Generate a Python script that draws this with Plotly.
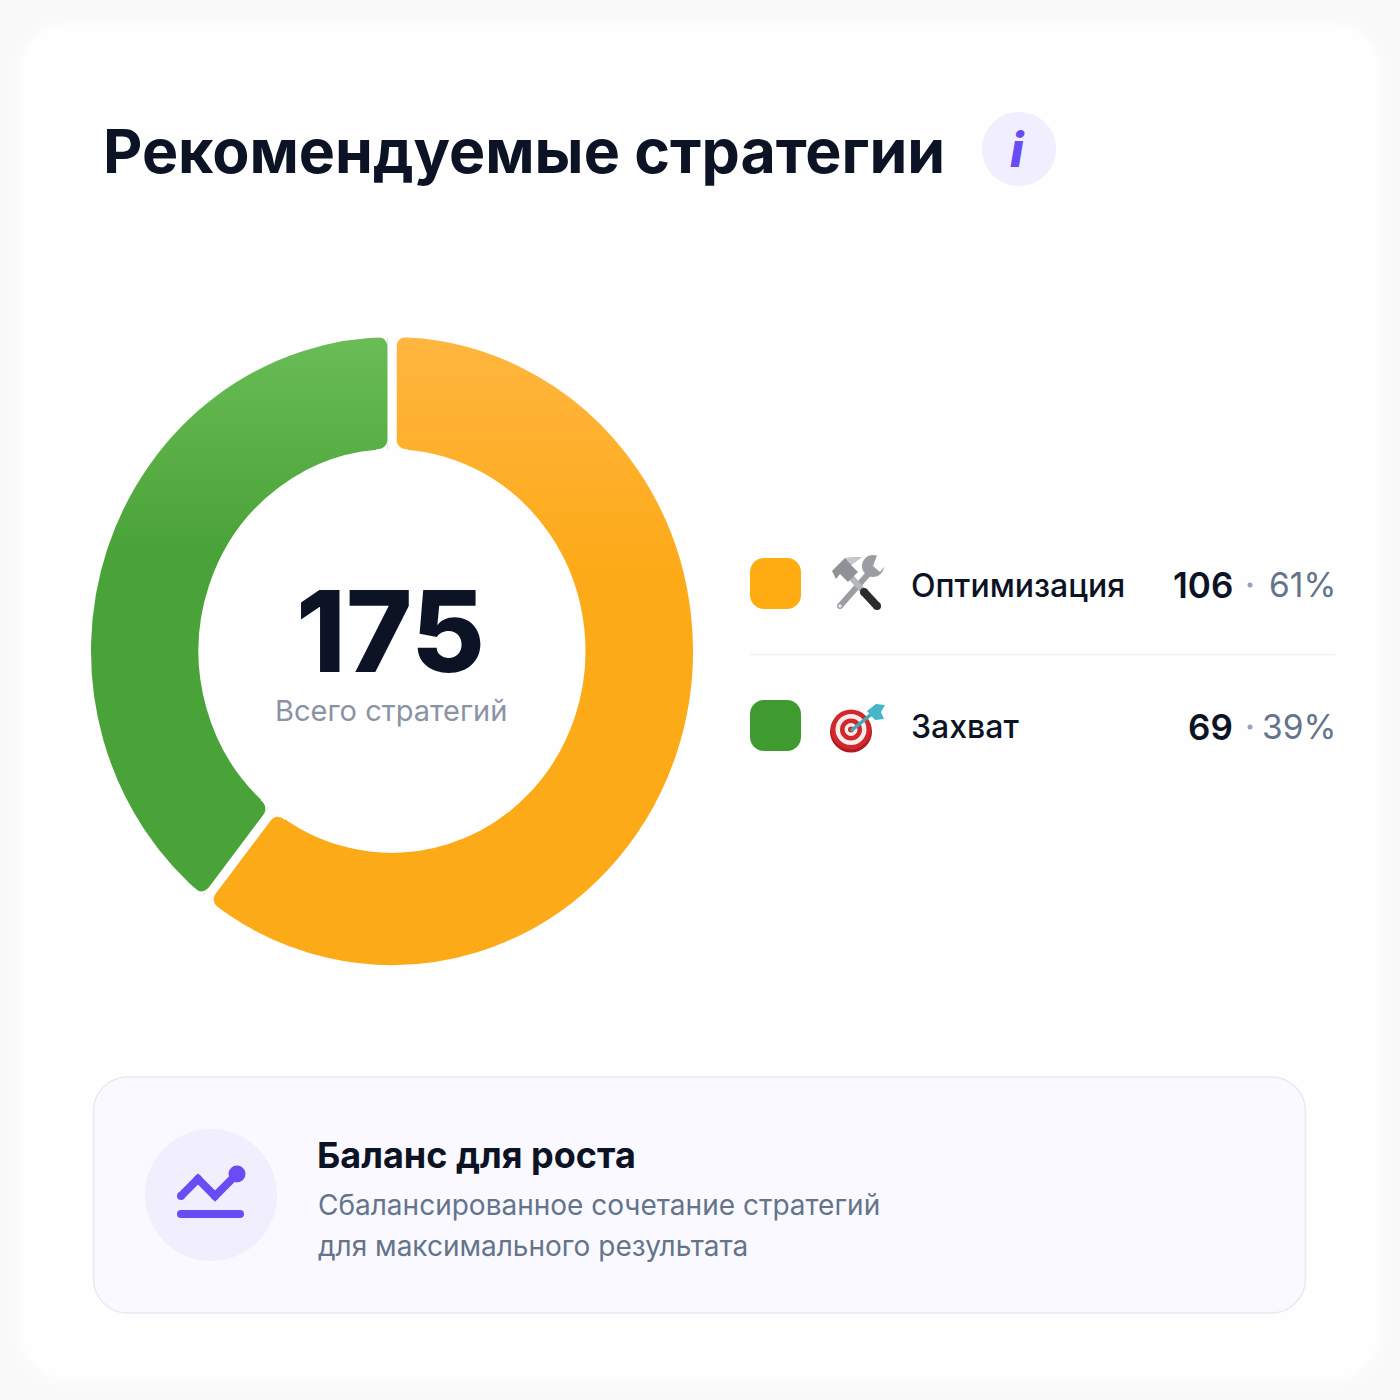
import math
import plotly.graph_objects as go

# ---- data ----
TITLE = "Рекомендуемые стратегии"
CATEGORIES = ["Оптимизация", "Захват"]
VALUES = [106, 69]
PERCENTS = ["61%", "39%"]
TOTAL_LABEL = "Всего стратегий"
TOTAL = sum(VALUES)
COLORS = ["#FDAB1E", "#4AA338"]
SWATCHES = ["#FFAB12", "#3F9A2F"]
NOTE_TITLE = "Баланс для роста"
NOTE_LINES = ["Сбалансированное сочетание стратегий", "для максимального результата"]

W = H = 1400
CARD = "#FEFEFE"
INK = "#0B1324"
PURPLE = "#6A4CF5"
LAV = "#F1EEFD"
FONT = "Inter"

def X(p): return p / W
def Y(p): return 1 - p / H

shapes = []
annotations = []

def path_str(cmds):
    out = []
    for c in cmds:
        if len(c) == 1:
            out.append(c[0])
        else:
            vals = []
            for i, v in enumerate(c[1:]):
                vals.append(f"{X(v) if i % 2 == 0 else Y(v):.6f}")
            out.append(c[0] + " " + " ".join(vals))
    return " ".join(out)

def rrect(x0, y0, x1, y1, r, fill, line=None, lw=0, layer="below"):
    k = 0.45 * r
    cmds = [("M", x0 + r, y0), ("L", x1 - r, y0),
            ("C", x1 - k, y0, x1, y0 + k, x1, y0 + r), ("L", x1, y1 - r),
            ("C", x1, y1 - k, x1 - k, y1, x1 - r, y1), ("L", x0 + r, y1),
            ("C", x0 + k, y1, x0, y1 - k, x0, y1 - r), ("L", x0, y0 + r),
            ("C", x0, y0 + k, x0 + k, y0, x0 + r, y0), ("Z",)]
    shapes.append(dict(type="path", xref="paper", yref="paper", path=path_str(cmds),
                       fillcolor=fill, line=dict(color=line or fill, width=lw), layer=layer))

def circle(cx, cy, r, fill, layer="above"):
    shapes.append(dict(type="circle", xref="paper", yref="paper", x0=X(cx - r), x1=X(cx + r),
                       y0=Y(cy + r), y1=Y(cy - r), fillcolor=fill, line=dict(width=0), layer=layer))

def poly(points, fill, layer="above"):
    cmds = [("M", *points[0])] + [("L", *p) for p in points[1:]] + [("Z",)]
    shapes.append(dict(type="path", xref="paper", yref="paper", path=path_str(cmds),
                       fillcolor=fill, line=dict(width=0), layer=layer))

def stroke(points, width, color, layer="above"):
    cmds = [("M", *points[0])] + [("L", *p) for p in points[1:]]
    shapes.append(dict(type="path", xref="paper", yref="paper", path=path_str(cmds),
                       line=dict(color=color, width=width), layer=layer))
    for p in points:
        circle(p[0], p[1], width / 2, color, layer)

def text(x, y, s, size, color, anchor="left", weight=400, style="normal", height=None):
    a = dict(xref="paper", yref="paper", x=X(x), y=Y(y), text=s, showarrow=False,
             xanchor=anchor, yanchor="middle", borderpad=0,
             font=dict(family=FONT, size=size, color=color, weight=weight, style=style))
    if height:
        a["height"] = height
    annotations.append(a)

# ---- card with soft shadow ----
for grow, col in [(14, "#FAFAFB"), (8, "#FBFBFC"), (3, "#FCFCFD")]:
    rrect(22 - grow, 25 - grow, 1378 + grow, 1378 + grow, 46 + grow, col)
rrect(22, 25, 1378, 1378, 46, CARD)

# ---- header ----
text(101.5, 150.5, TITLE, 60.8, INK, weight=700)
circle(1019, 149, 37, LAV, "below")
text(1018, 149, "i", 48, PURPLE, anchor="center", weight=800, style="italic")

# ---- donut ----
CX, CY, R_OUT, R_IN, GAP = 392, 651, 301, 193.5, 9
SY = 314 / 301   # the reference ring is slightly taller than wide
R_TRACE = R_OUT + GAP / 2
pie = go.Pie(labels=CATEGORIES, values=VALUES, sort=False, direction="clockwise", rotation=0,
             hole=(R_IN - GAP / 2) / R_TRACE, textinfo="none", showlegend=False,
             marker=dict(colors=COLORS, line=dict(color=CARD, width=GAP)),
             domain=dict(x=[X(CX - R_TRACE), X(CX + R_TRACE)], y=[Y(CY + R_TRACE), Y(CY - R_TRACE)]))

# rounded slice corners: small card-coloured spandrels at each slice end
CORNER = 11
def sy(y): return CY + (y - CY) * SY
boundaries = [0, VALUES[0] / TOTAL * 2 * math.pi]
for th in boundaries:
    rad = (math.sin(th), -math.cos(th))
    tan = (math.cos(th), math.sin(th))
    for side in (-1, 1):
        for rr, rdir in ((R_OUT, -1), (R_IN, 1)):
            cx = CX + rad[0] * rr + side * tan[0] * GAP / 2
            cy = CY + rad[1] * rr + side * tan[1] * GAP / 2
            a = (cx + rdir * rad[0] * CORNER, cy + rdir * rad[1] * CORNER)
            b = (cx + side * tan[0] * CORNER, cy + side * tan[1] * CORNER)
            o = (cx - rdir * rad[0] * 3, cy - rdir * rad[1] * 3)
            b2 = (b[0] - rdir * rad[0] * 3, b[1] - rdir * rad[1] * 3)
            cmds = [("M", a[0], sy(a[1])), ("Q", cx, sy(cy), b[0], sy(b[1])), ("L", b2[0], sy(b2[1])),
                    ("L", o[0], sy(o[1])), ("Z",)]
            shapes.append(dict(type="path", xref="paper", yref="paper", path=path_str(cmds),
                               fillcolor=CARD, line=dict(width=0), layer="above"))

text(390, 631, str(TOTAL), 113, INK, anchor="center", weight=800, height=84)
text(391, 710, TOTAL_LABEL, 29, "#8A93A3", anchor="center")

# ---- legend ----
ROW_Y = [585, 727]
for y, cat, val, pct, col in zip(ROW_Y, CATEGORIES, VALUES, PERCENTS, SWATCHES):
    rrect(750, y - 27, 801, y + 24, 14, col)
    text(909.5, y, cat, 32, INK, weight=500)
    text(1337, y, pct, 33.5, "#64748B", anchor="right")
    text(1233.5, y, str(val), 35, INK, anchor="right", weight=600)
    circle(1250, y, 2.5, "#94A3B8")
shapes.append(dict(type="line", xref="paper", yref="paper", x0=X(750), x1=X(1335), y0=Y(654.5), y1=Y(654.5),
                   line=dict(color="#F1F2F5", width=1.5), layer="below"))

# hammer and wrench icon
stroke([(870, 572), (840, 606)], 6, "#9A9DA2")
circle(873, 566, 11, "#9A9DA2")
poly([(870, 553), (878, 553), (873, 566), (880, 572), (888, 562), (888, 552)], CARD)
circle(840, 606, 1.8, "#E8E8EA")
stroke([(850, 576), (864, 592)], 6, "#B4B7BB")
stroke([(864, 592), (877, 606)], 8, "#2B2B2E")
poly([(832, 571), (845, 558), (862, 557), (851, 565), (858, 572), (848, 582), (840, 574), (836, 579)], "#8E9196")
poly([(845, 558), (862, 557), (851, 565)], "#C6C8CC")

# target icon
circle(851, 731.5, 21, "#A81C22")
circle(851, 729.5, 20, "#D3262D")
circle(851, 729.5, 15.5, "#F6EEEC")
circle(851, 729.5, 11, "#D3262D")
circle(851, 729.5, 6.5, "#F6EEEC")
circle(851, 729.5, 3, "#D3262D")
stroke([(852, 730), (874, 712)], 3.5, "#3FA9B8")
poly([(867, 711), (876, 704), (885, 705), (881, 712), (884, 719), (875, 720)], "#46B5C6")

# ---- note panel ----
rrect(93.5, 1077, 1305.5, 1313, 34, "#FAF9FF", "#E9E8F3", 1.5)
circle(211, 1195, 66, LAV, "below")
stroke([(181, 1196), (198, 1179), (215, 1196), (237, 1174)], 8, PURPLE)
circle(237, 1174, 8.5, PURPLE)
stroke([(181, 1214), (240, 1214)], 8, PURPLE)
text(316, 1155, NOTE_TITLE, 36, INK, weight=700)
text(316.5, 1205, NOTE_LINES[0], 28, "#64748B")
text(316.5, 1246, NOTE_LINES[1], 28, "#64748B")

fig = go.Figure(pie)
fig.update_layout(width=W, height=H, margin=dict(l=0, r=0, t=0, b=0, pad=0), autosize=False,
                  paper_bgcolor="#F9F9FA", plot_bgcolor="rgba(0,0,0,0)",
                  shapes=shapes, annotations=annotations, font=dict(family=FONT))

POST = f"""
document.body.style.margin='0';document.body.style.overflow='hidden';
var pl=document.querySelector('.pielayer');
if(pl){{
  pl.setAttribute('transform','translate({CX},{CY}) scale(1,{SY}) translate({-CX},{-CY})');
  var svg=document.querySelector('.main-svg');
  var ns='http://www.w3.org/2000/svg';
  var defs=document.createElementNS(ns,'defs');
  var grads=[['gOrange','#FFB640','#FDAA18'],['gGreen','#6BBD57','#4AA338']];
  grads.forEach(function(g){{
    var lg=document.createElementNS(ns,'linearGradient');
    lg.setAttribute('id',g[0]);lg.setAttribute('x1','0');lg.setAttribute('y1','0');lg.setAttribute('x2','0');lg.setAttribute('y2','1');
    [[0,g[1]],[0.38,g[2]],[1,g[2]]].forEach(function(s){{
      var st=document.createElementNS(ns,'stop');st.setAttribute('offset',s[0]);st.setAttribute('stop-color',s[1]);lg.appendChild(st);
    }});
    defs.appendChild(lg);
  }});
  svg.appendChild(defs);
  var ps=pl.querySelectorAll('.slice path.surface');
  ps.forEach(function(p,i){{ if(grads[i]) p.style.fill='url(#'+grads[i][0]+')'; }});
}}
"""
fig.write_html("out.html", config=dict(displayModeBar=False), post_script=POST)
